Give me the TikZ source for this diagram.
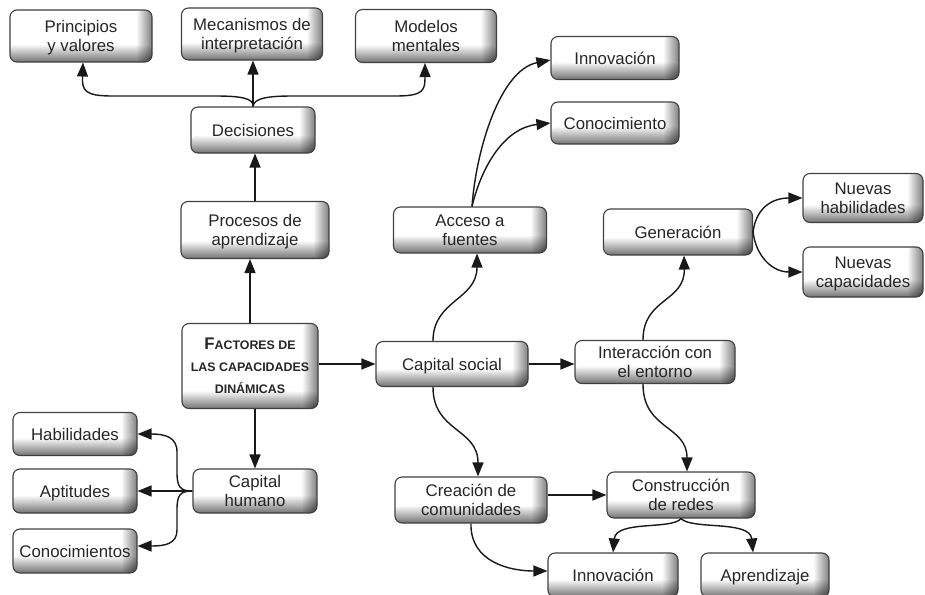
\documentclass[tikz,border=0pt]{standalone}
\usepackage{fontspec}
\setmainfont{Liberation Sans}
\usetikzlibrary{arrows.meta}

\tikzset{
  box/.style={draw=black!75, line width=1.1pt, rounded corners=7pt, fill=white,
    align=center, inner sep=0pt, text=black!85, text depth=0pt,
    font=\fontsize{16.8}{19.5}\selectfont,
    path picture={
      \begin{scope}[blend mode=multiply]
        \shade[top color=white, bottom color=black!55]
          ([yshift=18pt]path picture bounding box.south west) rectangle (path picture bounding box.south east);
        \shade[left color=white, right color=black!50]
          ([xshift=-16pt]path picture bounding box.north east) rectangle (path picture bounding box.south east);
      \end{scope}
    }},
  sz/.style n args={2}{minimum width=#1pt, minimum height=#2pt},
  arr/.style={-{Triangle[length=14pt,width=11pt]}, line width=1.4pt, draw=black!90},
}

\begin{document}
\begin{tikzpicture}[x=1pt, y=-1pt]
\useasboundingbox (0,0) rectangle (925,594);

% upper branch
\node[box, sz={142}{52}] (pv)  at (81,36)  {Principios\\y valores};
\node[box, sz={141}{52}] (mec) at (252,34) {Mecanismos de\\interpretación};
\node[box, sz={141}{53}] (mm)  at (426,36) {Modelos\\mentales};
\node[box, sz={124}{46}] (dec) at (253,130) {Decisiones};
\node[box, sz={148}{57}] (proc) at (255,230) {Procesos de\\aprendizaje};

% central node
\node[box, sz={136}{85}, font=\bfseries\fontsize{12.4}{22}\selectfont] (fac) at (250,366)
  {{\fontsize{16.8}{22}\selectfont F}ACTORES DE\\LAS CAPACIDADES\\DINÁMICAS};

% human capital
\node[box, sz={124}{44}] (ch)  at (255,491) {Capital\\humano};
\node[box, sz={124}{43}] (hab) at (75,434)  {Habilidades};
\node[box, sz={124}{44}] (apt) at (75,491)  {Aptitudes};
\node[box, sz={124}{44}] (con) at (75,551)  {Conocimientos};

% social capital
\node[box, sz={152}{45}] (cs)   at (452,364) {Capital social};
\node[box, sz={160}{43}] (int)  at (655,362) {Interacción con\\el entorno};
\node[box, sz={153}{46}] (acc)  at (470,230) {Acceso a\\fuentes};
\node[box, sz={128}{43}] (inn1) at (615,58)  {Innovación};
\node[box, sz={128}{42}] (kno)  at (615,123) {Conocimiento};
\node[box, sz={149}{46}] (gen)  at (678,232) {Generación};
\node[box, sz={120}{49}] (nh)   at (863,198) {Nuevas\\habilidades};
\node[box, sz={120}{50}] (nc)   at (863,272) {Nuevas\\capacidades};
\node[box, sz={152}{46}] (cre)  at (471,500) {Creación de\\comunidades};
\node[box, sz={148}{46}] (cr)   at (681,495) {Construcción\\de redes};
\node[box, sz={130}{44}] (inn2) at (613,575) {Innovación};
\node[box, sz={128}{44}] (apr)  at (765,575) {Aprendizaje};

% vertical spine
\draw[arr] (fac.north) -- (fac.north |- proc.south);
\draw[arr] (proc.north) -- (proc.north |- dec.south);
\draw[arr] (ch.north |- fac.south) -- (ch.north);
\draw[arr] (dec.north) -- (dec.north |- mec.south);
\draw[arr] (dec.north) .. controls (254,98) and (240,96) .. (215,96) -- (112,96)
  .. controls (84,96) and (82,90) .. ([xshift=2pt]pv.south);
\draw[arr] (dec.north) .. controls (254,98) and (268,96) .. (293,96) -- (396,96)
  .. controls (424,96) and (425,90) .. ([xshift=-1pt]mm.south);

% human capital fan
\draw[arr] (ch.west) .. controls (180,491) and (177,487) .. (177,472) -- (177,452)
  .. controls (177,437) and (165,434) .. (hab.east);
\draw[arr] (ch.west) -- (apt.east);
\draw[arr] (ch.west) .. controls (180,491) and (177,495) .. (177,510) -- (177,530)
  .. controls (177,544) and (165,546) .. ([yshift=5pt]con.east);

% social capital
\draw[arr] (fac.east |- cs.west) -- (cs.west);
\draw[arr] (cs.east) -- (int.west |- cs.east);
\draw[arr] ([xshift=-19pt]cs.north) .. controls (433,300) and (477,300) .. ([xshift=7pt]acc.south);
\draw[arr] ([xshift=-19pt]cs.south) .. controls (433,432) and (478,428) .. ([xshift=7pt]cre.north);
\draw[arr] ([xshift=-12pt]int.north) .. controls (643,298) and (685,302) .. ([xshift=6pt]gen.south);
\draw[arr] ([xshift=-12pt]int.south) .. controls (643,430) and (687,425) .. ([xshift=6pt]cr.north);
\draw[arr] ([xshift=2pt]acc.north) .. controls (476,150) and (500,70) .. ([yshift=-2pt]inn1.west);
\draw[arr] ([xshift=2pt]acc.north) .. controls (482,165) and (505,128) .. (kno.west);
\draw[arr] (gen.east) .. controls (756,208) and (772,198) .. (nh.west);
\draw[arr] (gen.east) .. controls (756,256) and (772,272) .. (nc.west);
\draw[arr] (cre.east |- cr.west) -- (cr.west);
\draw[arr] (cre.south) .. controls (470,562) and (510,571) .. ([yshift=4pt]inn2.west);
\draw[arr] (cr.south) .. controls (672,530) and (616,520) .. (inn2.north);
\draw[arr] (cr.south) .. controls (692,530) and (750,520) .. ([xshift=-12pt]apr.north);
\end{tikzpicture}
\end{document}
